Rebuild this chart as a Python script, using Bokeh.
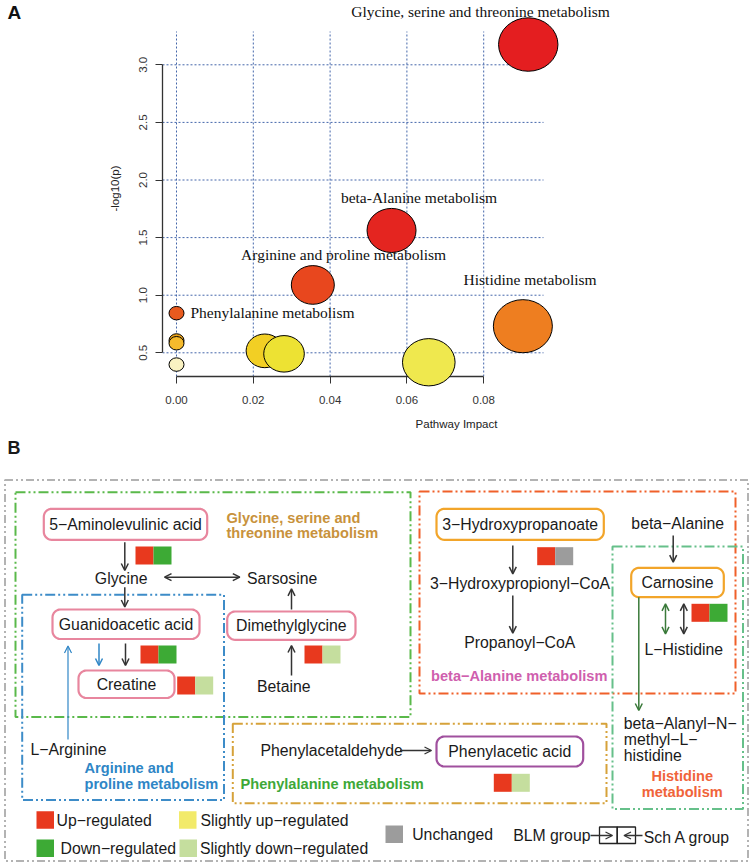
import math
from bokeh.plotting import figure
from bokeh.models import (Range1d, FixedTicker, NumeralTickFormatter, Arrow,
                          OpenHead, ColumnDataSource)
from bokeh.layouts import column
from bokeh.embed import file_html
from bokeh.resources import INLINE
from bokeh.core.properties import value

# ---------------- Panel A data ----------------
names = ["", "", "", "Phenylalanine metabolism", "", "", "",
         "Arginine and proline metabolism", "beta-Alanine metabolism",
         "Histidine metabolism", "Glycine, serine and threonine metabolism"]
impact = [0.0, 0.0, 0.0, 0.0, 0.0230, 0.0280, 0.0657, 0.0355, 0.0560, 0.0902, 0.0916]
neglogp = [0.398, 0.607, 0.583, 0.844, 0.517, 0.491, 0.418, 1.089, 1.562, 0.731, 3.176]
bubble_d = [15, 15, 15, 15, 37.4, 40.6, 52.6, 43, 49, 59, 59.4]
bubble_col = ["#FAF2C2", "#E9A21C", "#F5BA2C", "#E85A1E", "#F2CF24", "#EDE233",
              "#EFE84E", "#E8471E", "#E42520", "#EE7E20", "#E41E20"]
x_ticks = [0.0, 0.02, 0.04, 0.06, 0.08]
y_ticks = [0.5, 1.0, 1.5, 2.0, 2.5, 3.0]

# ---------------- Panel B data ----------------
reg_labels = ["Up−regulated", "Down−regulated", "Slightly up−regulated",
              "Slightly down−regulated", "Unchanged"]
reg_colors = ["#E8391E", "#3DAA35", "#F2EA6A", "#C5DE9E", "#9C9C9C"]
reg_metabolites = ["5-Aminolevulinic acid", "Guanidoacetic acid", "Creatine",
                   "Dimethylglycine", "3-Hydroxypropanoate", "Carnosine",
                   "Phenylacetic acid"]
blm_status = [0, 0, 0, 0, 0, 0, 0]
scha_status = [1, 1, 3, 3, 4, 1, 3]

W = 750
HA = 438
HB = 426

# ================= Panel A =================
PX_X = 3840.0
PX_Y = 115.2
x0 = -0.003646
x1 = x0 + (W - 162) / PX_X
y0 = 0.2943
y1 = y0 + 376 / PX_Y

pa = figure(width=W, height=HA, x_range=Range1d(x0, x1), y_range=Range1d(y0, y1),
            output_backend="svg", toolbar_location=None,
            min_border_left=162, min_border_right=0, min_border_top=0,
            min_border_bottom=HA - 376)
pa.outline_line_color = None
pa.grid.visible = False

grid_col = "#4466AA"
gx_top = y0 + (376 - 31) / PX_Y
gx_right = x0 + (543 - 162) / PX_X
pa.segment(x0=x_ticks, x1=x_ticks, y0=[y0] * len(x_ticks), y1=[gx_top] * len(x_ticks),
           line_color=grid_col, line_dash="2 2", line_width=1)
pa.segment(x0=[x0] * len(y_ticks), x1=[gx_right] * len(y_ticks), y0=y_ticks, y1=y_ticks,
           line_color=grid_col, line_dash="2 2", line_width=1)

for ax, ticks, fmt, bnd in ((pa.xaxis[0], x_ticks, "0.00", (0, 0.08)),
                            (pa.yaxis[0], y_ticks, "0.0", (0.5, 3.0))):
    ax.ticker = FixedTicker(ticks=ticks)
    ax.formatter = NumeralTickFormatter(format=fmt)
    ax.bounds = bnd
    ax.minor_tick_line_color = None
    ax.major_tick_out = 7
    ax.major_tick_in = 0
    ax.axis_line_color = "#333333"
    ax.major_tick_line_color = "#333333"
    ax.axis_line_width = 1.3
    ax.major_label_text_font = "Liberation Sans"
    ax.major_label_text_font_size = "11.5px"
    ax.major_label_text_color = "#333333"
    ax.axis_label_text_font = "Liberation Sans"
    ax.axis_label_text_font_size = "11.5px"
    ax.axis_label_text_font_style = "normal"
    ax.axis_label_text_color = "#222222"

pa.xaxis.axis_label = "Pathway Impact"
pa.xaxis.major_label_standoff = 12
pa.xaxis.axis_label_standoff = 11
pa.yaxis.axis_label = "-log10(p)"
pa.yaxis.major_label_orientation = "vertical"
pa.yaxis.major_label_standoff = 8
pa.yaxis.axis_label_standoff = 16

src = ColumnDataSource(dict(x=impact, y=neglogp, w=bubble_d,
                            h=[d * 0.9 for d in bubble_d], c=bubble_col))
pa.ellipse(x="x", y="y", width="w", height="h", width_units="screen", height_units="screen",
           fill_color="c", line_color="black", line_width=1, source=src, level="overlay")

lab_off = {
    "Glycine, serine and threonine metabolism": (-47.7, -33, "center"),
    "beta-Alanine metabolism": (27.5, -33.3, "center"),
    "Arginine and proline metabolism": (30.8, -30.5, "center"),
    "Histidine metabolism": (7.2, -46.7, "center"),
    "Phenylalanine metabolism": (14, -1, "left"),
}
for align in ("center", "left"):
    lx, ly, lt = [], [], []
    for n, xv, yv in zip(names, impact, neglogp):
        if n and lab_off[n][2] == align:
            dx, dy, _ = lab_off[n]
            lx.append(xv + dx / PX_X)
            ly.append(yv - dy / PX_Y)
            lt.append(n)
    pa.text(x=lx, y=ly, text=lt, text_font=value("Liberation Serif"),
            text_font_size="15.5px", text_align=align, text_baseline="middle",
            text_color="#111111", level="overlay")

# panel letter A (outside the plot region, drawn unclipped)
pa.text(x=[x0 - (162 - 7) / PX_X], y=[y0 + (376 - 12) / PX_Y], text=["A"],
        text_font=value("Liberation Sans"), text_font_style="bold",
        text_font_size="19px", text_baseline="middle", text_align="left",
        text_color="#111111", level="overlay")

# ================= Panel B =================
pb = figure(width=W, height=HB, x_range=Range1d(0, W), y_range=Range1d(HA + HB, HA),
            output_backend="svg", toolbar_location=None, min_border=0,
            x_axis_location=None, y_axis_location=None)
pb.grid.visible = False
pb.outline_line_color = None
for fig in (pa, pb):
    if "frame_align" in fig.properties():
        fig.frame_align = False

DASH = "10 3 2 3 2 3"
frames = [
    (4.5, 747.5, 479.5, 860.5, "#B3B3B3", "8 3 2 3 2 3"),
    (15, 410, 491.7, 716.5, "#5AB94A", DASH),
    (419, 735, 491, 693, "#F0602A", DASH),
    (612, 742.5, 546, 808.5, "#66C08A", DASH),
    (21.7, 223.5, 594.3, 799.5, "#3D8CC8", DASH),
    (232.3, 606, 723.3, 802.7, "#D6A23A", DASH),
]
for l, r, t, b, c, d in frames:
    pb.quad(left=l, right=r, top=t, bottom=b, fill_color=None, line_color=c,
            line_dash=d, line_width=2)


def rrect(l, r, t, b, rad=8, n=8):
    xs, ys = [], []
    for cx, cy, a0 in ((l + rad, t + rad, 180), (r - rad, t + rad, 270),
                       (r - rad, b - rad, 0), (l + rad, b - rad, 90)):
        for k in range(n + 1):
            a = math.radians(a0 + 90 * k / n)
            xs.append(cx + rad * math.cos(a))
            ys.append(cy + rad * math.sin(a))
    return xs, ys


boxes = [
    (43.3, 206.7, 508.3, 539.3, "#E8869E"),
    (52, 199, 609, 638.5, "#E8869E"),
    (226.7, 355, 611, 639.3, "#E8869E"),
    (78, 174, 670, 697.5, "#E8869E"),
    (436, 603.3, 508.3, 539.3, "#F2A52A"),
    (630.7, 723.3, 567.3, 596.7, "#F2A52A"),
    (436, 582.7, 736, 766, "#A0509E"),
]
bx, by, bc = [], [], []
for l, r, t, b, c in boxes:
    xs, ys = rrect(l, r, t, b)
    bx.append(xs)
    by.append(ys)
    bc.append(c)
pb.patches(xs=bx, ys=by, fill_color="white", line_color=bc, line_width=2.2)

sq_pos = [(135, 546), (140, 645), (176.7, 676), (304, 645), (536.7, 546.7),
          (691, 603.3), (493.3, 773.3)]
S = 18
ql, qr, qt, qb, qc = [], [], [], [], []
for (px, py), s1, s2 in zip(sq_pos, blm_status, scha_status):
    for k, s in enumerate((s1, s2)):
        ql.append(px + k * S)
        qr.append(px + (k + 1) * S)
        qt.append(py)
        qb.append(py + S)
        qc.append(reg_colors[s])
pb.quad(left=ql, right=qr, top=qt, bottom=qb, fill_color=qc, line_color=None)

leg_pos = [(36, 810.7), (36, 839), (178.5, 810.7), (179, 839), (385, 825)]
pb.quad(left=[p[0] for p in leg_pos], right=[p[0] + 17.5 for p in leg_pos],
        top=[p[1] for p in leg_pos], bottom=[p[1] + 17.5 for p in leg_pos],
        fill_color=reg_colors, line_color=None)
leg_txt_pos = [(56, 819.5), (60, 847.5), (200, 819.5), (199.5, 847.5), (411.7, 834)]


def txt(items, color="#1A1A1A", size="15.8px", style="normal", align="center"):
    pb.text(x=[i[0] for i in items], y=[i[1] for i in items], text=[i[2] for i in items],
            text_font=value("Liberation Sans"), text_font_size=size,
            text_font_style=style, text_align=align, text_baseline="middle",
            text_color=color)


txt([
    (125, 524, "5−Aminolevulinic acid"),
    (120.7, 578.3, "Glycine"),
    (281.7, 578.3, "Sarsosine"),
    (125.5, 624, "Guanidoacetic acid"),
    (290.8, 625.3, "Dimethylglycine"),
    (126, 683.8, "Creatine"),
    (283.3, 685.5, "Betaine"),
    (68, 748.5, "L−Arginine"),
    (509.3, 751, "Phenylacetic acid"),
    (519.7, 524, "3−Hydroxypropanoate"),
    (677.2, 523, "beta−Alanine"),
    (519.5, 583, "3−Hydroxypropionyl−CoA"),
    (519.3, 642, "Propanoyl−CoA"),
    (677, 582.2, "Carnosine"),
    (683.3, 649.3, "L−Histidine"),
])
txt([
    (260, 750, "Phenylacetaldehyde"),
    (623.3, 723, "beta−Alanyl−N−"),
    (623.3, 739, "methyl−L−"),
    (623.3, 754.5, "histidine"),
    (512.7, 835, "BLM group"),
    (643.3, 836.5, "Sch A group"),
] + [(p[0], p[1], t) for p, t in zip(leg_txt_pos, reg_labels)], align="left")

txt([(226, 517.3, "Glycine, serine and"), (226, 532.7, "threonine metabolism")],
    color="#C8923C", size="14.6px", style="bold", align="left")
txt([(430.5, 675, "beta−Alanine metabolism")], color="#CF5FAE", size="14.6px",
    style="bold", align="left")
txt([(84, 767.3, "Arginine and"), (84, 783.3, "proline metabolism")],
    color="#2F86C6", size="14.6px", style="bold", align="left")
txt([(240, 783.3, "Phenylalanine metabolism")], color="#3EA838", size="14.6px",
    style="bold", align="left")
txt([(681.7, 775.7, "Histidine"), (681.7, 791, "metabolism")], color="#F0643A",
    size="14.6px", style="bold", align="center")
txt([(7, 447, "B")], size="18px", style="bold", align="left")

DK = "#333333"
BL = "#2F86C6"
GR = "#3A7A3A"
arrows = [
    (124.3, 541.7, 124.3, 570, DK, False, 1.5),
    (164, 576.7, 239.3, 576.7, DK, True, 1.5),
    (124.3, 586.7, 124.3, 606.5, DK, False, 1.5),
    (291, 609, 291, 588.3, DK, False, 1.5),
    (291, 675, 291, 645, DK, False, 1.5),
    (98.5, 643, 98.5, 665, BL, False, 1.5),
    (125, 643, 125, 665, DK, False, 1.5),
    (67.5, 739, 67.5, 645.5, BL, False, 1.2),
    (512.3, 545, 512.3, 573.3, DK, False, 1.5),
    (512.3, 595, 512.3, 632.7, DK, False, 1.5),
    (672.7, 535, 672.7, 561.7, DK, False, 1.5),
    (665, 603.3, 665, 633.3, GR, True, 1.5),
    (683.3, 603.3, 683.3, 633.3, DK, True, 1.5),
    (638.3, 596.7, 638.3, 710, GR, False, 1.5),
    (399.5, 750, 431, 750, DK, False, 1.3),
    (590, 835, 612, 835, DK, False, 1.3),
    (642, 835, 623.5, 835, DK, False, 1.3),
]
for ax0, ay0, ax1, ay1, c, dbl, w in arrows:
    pb.add_layout(Arrow(x_start=ax0, y_start=ay0, x_end=ax1, y_end=ay1,
                        line_color=c, line_width=w,
                        end=OpenHead(size=7, line_color=c, line_width=w),
                        start=OpenHead(size=7, line_color=c, line_width=w) if dbl else None))

pb.quad(left=[599, 616.7], right=[616.7, 635], top=[826.5, 826.5], bottom=[843, 843],
        fill_color=None, line_color="#222222", line_width=1.3)

layout = column(pa, pb)
open("out.html", "w").write(file_html(layout, INLINE))
